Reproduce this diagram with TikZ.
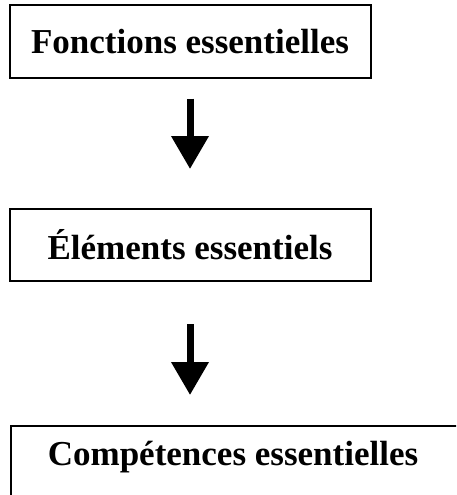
\documentclass[tikz,border=0pt]{standalone}
\usepackage{fontspec}
\setmainfont{Liberation Serif}
\usetikzlibrary{arrows.meta}
\begin{document}
\begin{tikzpicture}[x=1pt,y=-1pt,
  box/.style={draw=black, line width=2pt, rectangle, inner sep=0pt},
  lbl/.style={font=\fontsize{35}{41}\selectfont\bfseries, inner sep=0pt},
  arr/.style={line width=7pt, -{Triangle[width=36pt,length=33pt]}}]
  \useasboundingbox (0,0) rectangle (456,495);
  \clip (0,0) rectangle (456,495);
  \fill[white] (0,0) rectangle (456,495);
  % flow chart boxes
  \node[box, minimum width=361pt, minimum height=72pt, lbl] (a) at (190,41.5) {Fonctions essentielles};
  \node[box, minimum width=361pt, minimum height=72pt, lbl] (b) at (190,245) {Éléments essentiels};
  \node[box, minimum width=470pt, minimum height=110pt, anchor=north west] (c) at (10,425) {};
  \node[lbl] (ct) at (233,457) {Compétences essentielles};
  % connecting arrows
  \draw[arr, shorten <=20pt, shorten >=39pt] (a.south) -- (b.north);
  \draw[arr, shorten <=42pt, shorten >=30pt] (b.south) -- (b.south |- c.north);
\end{tikzpicture}
\end{document}
